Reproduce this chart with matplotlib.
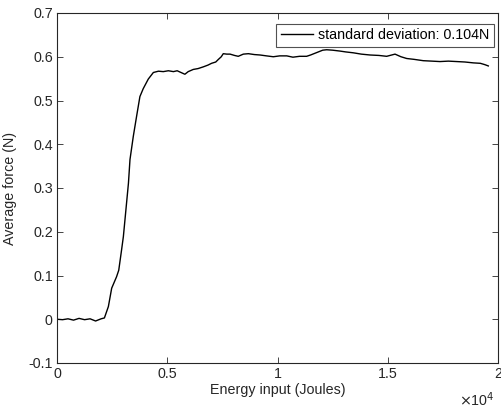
import matplotlib
matplotlib.use("Agg")
import matplotlib.pyplot as plt
from matplotlib.ticker import FixedLocator, FuncFormatter

energy = [0, 250, 500, 750, 1000, 1250, 1500, 1750, 2000, 2150, 2330, 2480, 2700,
          2800, 2930, 3010, 3240, 3310, 3460, 3610, 3760, 3910, 4140, 4370, 4600,
          4820, 5050, 5280, 5450, 5580, 5800, 5950, 6180, 6400, 6640, 6850, 7010,
          7200, 7320, 7450, 7540, 7700, 7850, 8050, 8220, 8450, 8680, 8950, 9210,
          9500, 9810, 10100, 10420, 10700, 11000, 11320, 11500, 11850, 12050, 12230,
          12500, 12830, 13100, 13440, 13800, 14200, 14600, 14950, 15330, 15600,
          15860, 16200, 16610, 17000, 17370, 17750, 18130, 18500, 18880, 19200,
          19400, 19560]
force = [0.000, -0.001, 0.001, -0.002, 0.002, -0.001, 0.001, -0.004, 0.001, 0.003,
         0.029, 0.071, 0.097, 0.112, 0.159, 0.189, 0.311, 0.365, 0.418, 0.464,
         0.509, 0.527, 0.549, 0.564, 0.567, 0.566, 0.568, 0.566, 0.568, 0.565,
         0.560, 0.566, 0.571, 0.573, 0.577, 0.581, 0.585, 0.588, 0.594, 0.600,
         0.607, 0.606, 0.606, 0.603, 0.601, 0.606, 0.607, 0.605, 0.604, 0.602,
         0.600, 0.602, 0.602, 0.599, 0.601, 0.601, 0.604, 0.611, 0.615, 0.616,
         0.615, 0.613, 0.611, 0.609, 0.606, 0.604, 0.603, 0.601, 0.606, 0.600,
         0.596, 0.594, 0.591, 0.590, 0.589, 0.590, 0.589, 0.588, 0.586, 0.585,
         0.582, 0.579]
legend_label = "standard deviation: 0.104N"
x_ticks = [0, 5000, 10000, 15000, 20000]
y_ticks = [-0.1, 0, 0.1, 0.2, 0.3, 0.4, 0.5, 0.6, 0.7]

plt.rcParams['font.family'] = ['Liberation Sans', 'DejaVu Sans']
axcol = (0.15, 0.15, 0.15)

fig = plt.figure(figsize=(5.01, 4.08), dpi=100)
ax = fig.add_axes([57/501, 1-363/408, (498-57)/501, (363-13)/408])
ax.plot(energy, force, color='black', lw=1.0, label=legend_label)
ax.set_xlim(0, 20000)
ax.set_ylim(-0.1, 0.7)
ax.xaxis.set_major_locator(FixedLocator(x_ticks))
ax.yaxis.set_major_locator(FixedLocator(y_ticks))
ax.xaxis.set_major_formatter(FuncFormatter(lambda v, p: f"{v/1e4:g}"))
ax.yaxis.set_major_formatter(FuncFormatter(lambda v, p: f"{v:g}"))
ax.tick_params(direction='in', length=4, width=0.6, top=True, right=True,
               colors=axcol, labelcolor=axcol, labelsize=10.3, pad=3)
for s in ax.spines.values():
    s.set_color(axcol)
    s.set_linewidth(0.8)
ax.set_xlabel("Energy input (Joules)", fontsize=10.3, color=axcol, labelpad=1)
ax.set_ylabel("Average force (N)", fontsize=10.3, color=axcol, labelpad=8)
fig.text(495/501, 1-400/408, r"$\times$10$^{4}$", ha='right', va='center',
         fontsize=10.3, color=axcol)
leg = ax.legend(loc='upper right', bbox_to_anchor=(0.991, 0.9686), fontsize=10.3,
                frameon=True, fancybox=False, handlelength=2.3, handletextpad=0.35,
                borderpad=0.3, borderaxespad=0.0)
leg.get_frame().set_edgecolor(axcol)
leg.get_frame().set_linewidth(0.8)
for t in leg.get_texts():
    t.set_color('black')
fig.savefig("out.png", dpi=100)
